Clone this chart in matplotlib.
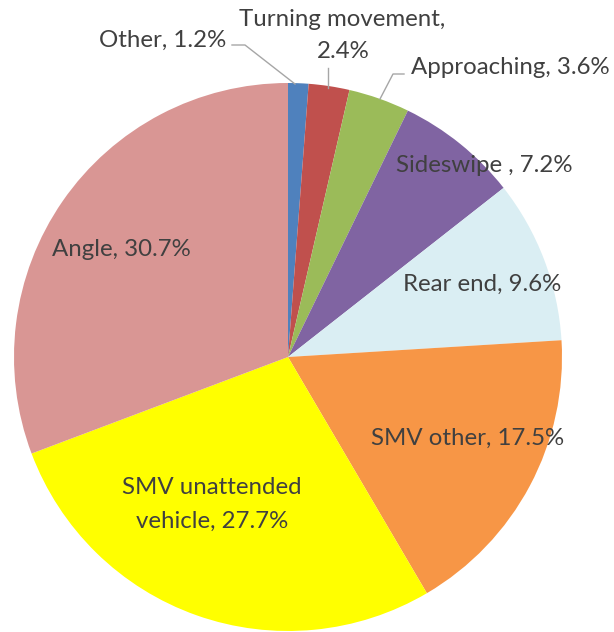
import matplotlib
matplotlib.use('Agg')
import matplotlib.pyplot as plt

# === Data ===
categories = ['Other', 'Turning movement', 'Approaching', 'Sideswipe ', 'Rear end',
              'SMV other', 'SMV unattended vehicle', 'Angle']
shares = [1.2, 2.4, 3.6, 7.2, 9.6, 17.5, 27.7, 30.7]
colors = ['#4F81BD', '#C0504D', '#9BBB59', '#8064A2', '#DAEEF3',
          '#F79646', '#FFFF00', '#D99694']

# label text layout (pixel coords, y from top)
label_text = ['Other, 1.2%', 'Turning movement,', '2.4%', 'Approaching, 3.6%',
              'Sideswipe , 7.2%', 'Rear end, 9.6%', 'SMV other, 17.5%',
              'SMV unattended', 'vehicle, 27.7%', 'Angle, 30.7%']
label_pos = [(163, 40), (342, 19), (343, 52), (510, 68), (484, 165), (482, 284),
             (468, 438), (212, 488), (212, 521), (121, 249)]

W, H = 614, 632
fig = plt.figure(figsize=(W / 100, H / 100), dpi=100)
ax = fig.add_axes([0, 0, 1, 1])

cx, cy, r = 288, H - 357, 274
ax.pie(shares, colors=colors, startangle=90, counterclock=False,
       center=(cx, cy), radius=r, wedgeprops=dict(linewidth=0),
       frame=True)
ax.set_xlim(0, W)
ax.set_ylim(0, H)
ax.set_aspect('equal')
ax.axis('off')

for txt, (x, y) in zip(label_text, label_pos):
    ax.text(x, H - y, txt, ha='center', va='center', fontsize=17.3,
            family='Lato', color='#404040')

# === Leader lines for the small outer labels ===
lc = '#A6A6A6'
ax.plot([232, 245, 295], [H - 45, H - 45, H - 84], color=lc, lw=1)
ax.plot([328, 328], [H - 68, H - 88], color=lc, lw=1)
ax.plot([404, 393, 380], [H - 74, H - 74, H - 99], color=lc, lw=1)

fig.savefig('out.png', dpi=100)
